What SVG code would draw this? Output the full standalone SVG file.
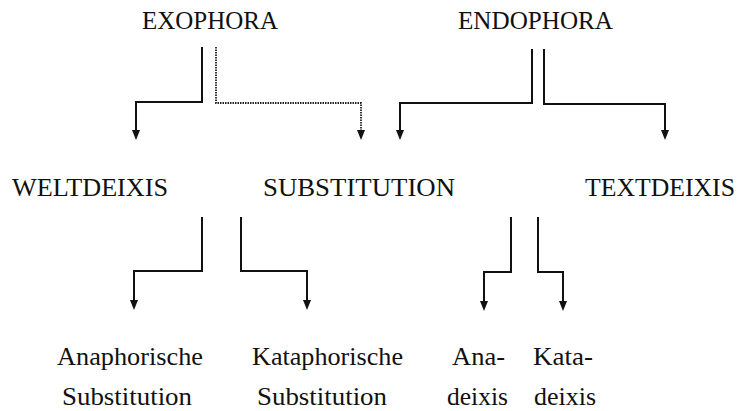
<svg xmlns="http://www.w3.org/2000/svg" width="738" height="411" viewBox="0 0 738 411">
<style>
text{font-family:'Liberation Serif','DejaVu Serif','Times New Roman',serif;fill:#111;}
.t{font-size:25px;}
.b{font-size:26px;}
.ln{fill:none;stroke:#111;stroke-width:2;}
.dot{fill:none;stroke:#222;stroke-width:1.8;stroke-dasharray:1.5 1;}
</style>
<defs>
<marker id="ah" viewBox="0 0 10 8" refX="4" refY="4" markerWidth="10" markerHeight="8" markerUnits="userSpaceOnUse" orient="auto">
<path d="M0 0 L10 4 L0 8 z" fill="#111"/>
</marker>
</defs>
<rect width="738" height="411" fill="#fff"/>
<g id="exophora"><text class="t" x="142" y="29" textLength="136" lengthAdjust="spacingAndGlyphs">EXOPHORA</text></g>
<g id="endophora"><text class="t" x="458" y="29" textLength="155" lengthAdjust="spacingAndGlyphs">ENDOPHORA</text></g>
<g id="weltdeixis"><text class="t" x="12" y="196" textLength="156" lengthAdjust="spacingAndGlyphs">WELTDEIXIS</text></g>
<g id="substitution"><text class="t" x="263" y="196" textLength="192" lengthAdjust="spacingAndGlyphs">SUBSTITUTION</text></g>
<g id="textdeixis"><text class="t" x="585" y="196" textLength="150" lengthAdjust="spacingAndGlyphs">TEXTDEIXIS</text></g>
<g id="anaphorische"><text class="b" x="57" y="365" textLength="146" lengthAdjust="spacingAndGlyphs">Anaphorische</text><text class="b" x="62" y="405" textLength="130" lengthAdjust="spacingAndGlyphs">Substitution</text></g>
<g id="kataphorische"><text class="b" x="252" y="365" textLength="151" lengthAdjust="spacingAndGlyphs">Kataphorische</text><text class="b" x="257" y="405" textLength="130" lengthAdjust="spacingAndGlyphs">Substitution</text></g>
<g id="anadeixis"><text class="b" x="452" y="365" textLength="53" lengthAdjust="spacingAndGlyphs">Ana-</text><text class="b" x="447" y="405" textLength="61" lengthAdjust="spacingAndGlyphs">deixis</text></g>
<g id="katadeixis"><text class="b" x="533" y="365" textLength="60" lengthAdjust="spacingAndGlyphs">Kata-</text><text class="b" x="534" y="405" textLength="62" lengthAdjust="spacingAndGlyphs">deixis</text></g>
<g id="connectors">
<path class="ln" d="M202 47 V102 H136 V134" marker-end="url(#ah)"/>
<path class="dot" d="M216 47 V103 H361 V134" marker-end="url(#ah)"/>
<path class="ln" d="M532 49 V103 H400 V134" marker-end="url(#ah)"/>
<path class="ln" d="M544 49 V104 H665 V134" marker-end="url(#ah)"/>
<path class="ln" d="M202 217 V271 H134 V304" marker-end="url(#ah)"/>
<path class="ln" d="M241 217 V271 H307 V304" marker-end="url(#ah)"/>
<path class="ln" d="M511 217 V272 H484 V305" marker-end="url(#ah)"/>
<path class="ln" d="M538 217 V272 H563 V305" marker-end="url(#ah)"/>
</g>
</svg>
